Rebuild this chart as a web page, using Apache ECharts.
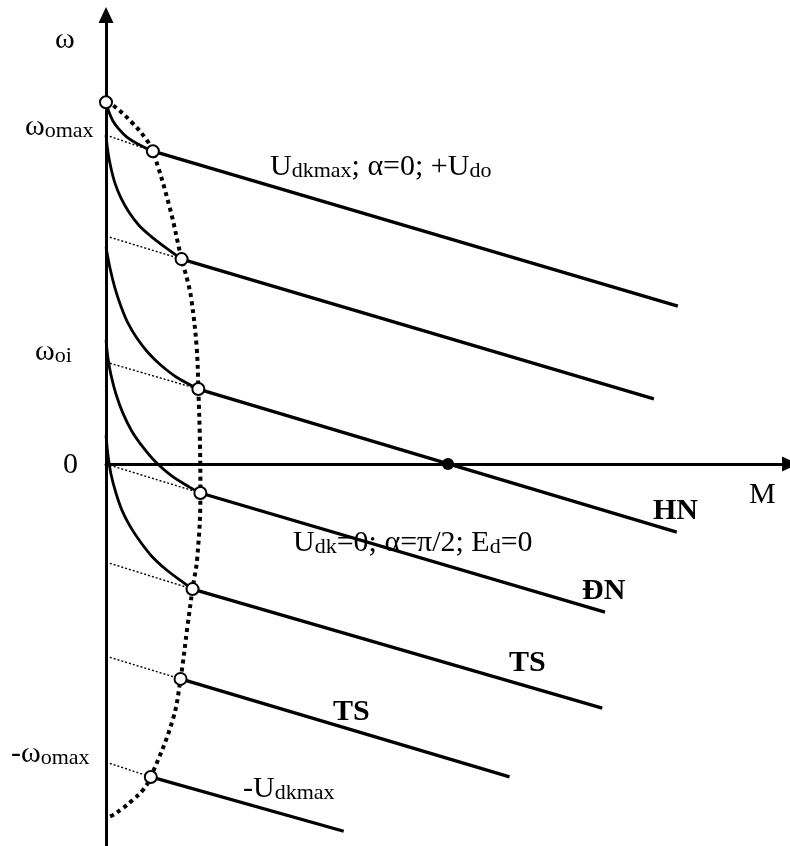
<!DOCTYPE html>
<html>
<head>
<meta charset="utf-8">
<script src="https://cdn.jsdelivr.net/npm/echarts/dist/echarts.min.js"></script>
<style>
    html, body { margin: 0; padding: 0; background: #fff; }
    #chart { width: 790px; height: 846px; }
</style>
</head>
<body>
<div id="chart"></div>
<script>
// M axis: black dot (omega = 0 crossing) at M = 10; omega axis: omega0max = 100
// working points on the dotted boundary (first one is the top end, no line)
var circleM = [0, 1.37, 2.21, 2.70, 2.76, 2.53, 2.18, 1.31];
var circleW = [110, 95.1, 62.3, 22.8, -8.8, -38.0, -65.3, -95.1];
// right ends of the straight characteristics
var endM = [16.72, 16.02, 16.69, 14.59, 14.51, 11.80, 6.95];
var endW = [48.0, 19.8, -20.7, -45.0, -74.2, -95.1, -111.6];
// ideal no-load speeds where the dotted extensions meet the omega axis
var w0 = [100, 69.3, 31.0, 0, -29.8, -58.4, -90.6];

// discontinuous-current curves
var curve1M = [0, 0.087, 0.203, 0.378, 0.61, 0.93, 1.37];
var curve1W = [110, 107.0, 104.3, 101.8, 99.4, 97.3, 95.1];
var curve2M = [0, 0.058, 0.145, 0.262, 0.436, 0.669, 0.959, 1.308, 1.715, 2.21];
var curve2W = [100, 94.8, 90.0, 85.4, 80.9, 76.6, 72.6, 69.3, 66.0, 62.3];
var curve3M = [0, 0.116, 0.262, 0.436, 0.64, 0.901, 1.221, 1.599, 2.064, 2.70];
var curve3W = [66.0, 59.6, 53.5, 48.0, 42.9, 38.3, 34.0, 30.1, 26.4, 22.8];
var curve4M = [0, 0.058, 0.145, 0.291, 0.494, 0.756, 1.076, 1.453, 1.919, 2.442, 2.76];
var curve4W = [37.7, 32.2, 27.1, 21.3, 15.5, 10.0, 5.2, 0.6, -3.6, -7.0, -8.8];
var curve5M = [0, 0.058, 0.145, 0.291, 0.465, 0.698, 0.988, 1.337, 1.773, 2.209, 2.53];
var curve5W = [8.8, 2.7, -3.0, -8.8, -14.0, -18.8, -23.4, -28.0, -32.2, -35.6, -38.0];

// boundary between continuous and discontinuous current
var edgeM = [0, 0.2, 0.78, 1.19, 1.37, 1.86, 2.21, 2.38, 2.50, 2.65, 2.70, 2.75, 2.76, 2.67, 2.53, 2.38, 2.18, 1.95, 1.31, 1.08, 0.78, 0.49, 0.2, 0.06];
var edgeW = [110, 109.1, 103.6, 98.5, 95.1, 78.1, 62.3, 55.9, 49.8, 35.6, 22.8, 5, -8.8, -28.3, -38.0, -49.5, -65.3, -77.8, -95.1, -99.1, -102.1, -104.6, -106.7, -107.3];

var zeroPointM = [10];
var zeroPointW = [0];

function zip(m, w) {
    var out = [];
    for (var i = 0; i < m.length; i++) {
        out.push([m[i], w[i]]);
    }
    return out;
}

var black = "#000";
var series = [];

// straight parts
for (var i = 0; i < endM.length; i++) {
    series.push({
        type: "line",
        data: [[circleM[i + 1], circleW[i + 1]], [endM[i], endW[i]]],
        symbol: "none",
        clip: false,
        lineStyle: { color: black, width: 3.3 },
        z: 3,
    });
    // thin dotted extension back to the axis
    series.push({
        type: "line",
        data: [[0, w0[i]], [circleM[i + 1], circleW[i + 1]]],
        symbol: "none",
        clip: false,
        lineStyle: { color: black, width: 1.4, type: [2, 2] },
        z: 2,
    });
}

[[curve1M, curve1W], [curve2M, curve2W], [curve3M, curve3W], [curve4M, curve4W], [curve5M, curve5W]].forEach(function (c) {
    series.push({
        type: "line",
        data: zip(c[0], c[1]),
        symbol: "none",
        smooth: 0.3,
        clip: false,
        lineStyle: { color: black, width: 2.8 },
        z: 3,
    });
});

series.push({
    type: "line",
    data: zip(edgeM, edgeW),
    symbol: "none",
    smooth: 0.4,
    clip: false,
    lineStyle: { color: black, width: 4, type: [4, 4] },
    z: 3,
});

series.push({
    type: "scatter",
    data: zip(circleM, circleW),
    symbol: "circle",
    symbolSize: 12,
    clip: false,
    itemStyle: { color: "#fff", borderColor: black, borderWidth: 2, opacity: 1 },
    z: 6,
});

series.push({
    type: "scatter",
    data: zip(zeroPointM, zeroPointW),
    symbolSize: 12,
    clip: false,
    itemStyle: { color: black, opacity: 1 },
    z: 6,
});

var font = "'Liberation Serif', 'Times New Roman', serif";
var rich = {
    m: { fontFamily: font, fontSize: 30, lineHeight: 30, color: black },
    s: { fontFamily: font, fontSize: 22, lineHeight: 8, verticalAlign: "bottom", color: black },
    b: { fontFamily: font, fontSize: 30, fontWeight: "bold", lineHeight: 30, color: black },
};

// [text, left, baseline]
var labels = [
    ["{m|ω}", 55, 48],
    ["{m|ω}{s|omax}", 25, 135],
    ["{m|ω}{s|oi}", 35, 360],
    ["{m|0}", 63, 473],
    ["{m|-ω}{s|omax}", 11, 762],
    ["{m|U}{s|dkmax}{m|; α=0; +U}{s|do}", 270, 175],
    ["{m|U}{s|dk}{m|=0; α=π/2; E}{s|d}{m|=0}", 293, 551],
    ["{m|-U}{s|dkmax}", 243, 797],
    ["{m|M}", 749, 503],
    ["{b|HN}", 653, 519],
    ["{b|ĐN}", 582, 599],
    ["{b|TS}", 509, 671],
    ["{b|TS}", 333, 720],
];

var elements = labels.map(function (l) {
    return {
        type: "text",
        x: l[1],
        y: l[2] - 23,
        z: 1,
        style: { text: l[0], rich: rich, align: "left", verticalAlign: "top" },
    };
});

var chart = echarts.init(document.getElementById("chart"));
chart.setOption({
    animation: false,
    backgroundColor: "#fff",
    grid: { left: 106, top: 15, width: 688, height: 830.7 },
    xAxis: {
        type: "value",
        min: 0,
        max: 20,
        axisLine: {
            show: true,
            onZero: true,
            symbol: ["none", "triangle"],
            symbolSize: [15, 16],
            lineStyle: { color: black, width: 3 },
        },
        axisTick: { show: false },
        axisLabel: { show: false },
        splitLine: { show: false },
    },
    yAxis: {
        type: "value",
        min: -116,
        max: 136.5,
        axisLine: {
            show: true,
            onZero: true,
            symbol: ["none", "triangle"],
            symbolSize: [15, 16],
            lineStyle: { color: black, width: 3 },
        },
        axisTick: { show: false },
        axisLabel: { show: false },
        splitLine: { show: false },
    },
    graphic: { elements: elements },
    series: series,
});
</script>
</body>
</html>
